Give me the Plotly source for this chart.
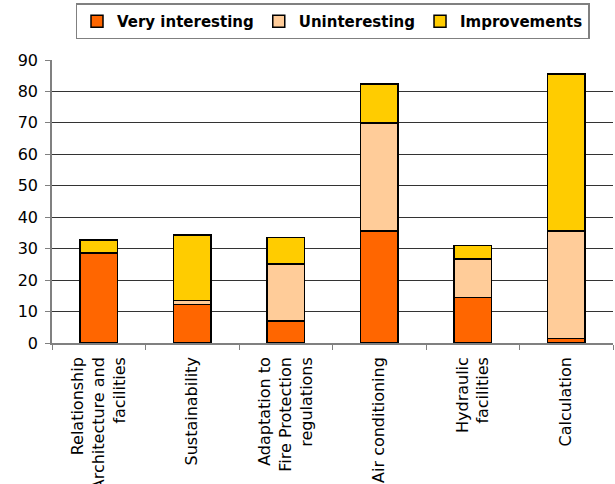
import plotly.graph_objects as go

categories = [
    "Relationship<br>Architecture and<br>facilities",
    "Sustainability",
    "Adaptation to<br>Fire Protection<br>regulations",
    "Air conditioning",
    "Hydraulic<br>facilities",
    "Calculation",
]
very_interesting = [28.6, 12.2, 7.0, 35.6, 14.4, 1.4]
uninteresting = [0.0, 1.3, 18.2, 34.3, 12.3, 34.2]
improvements = [4.2, 20.8, 8.3, 12.4, 4.3, 50.0]

series = [
    ("Very interesting", very_interesting, "#FF6600"),
    ("Uninteresting", uninteresting, "#FFCC99"),
    ("Improvements", improvements, "#FFCC00"),
]

fig = go.Figure()
for name, vals, color in series:
    fig.add_trace(go.Bar(
        name=name, x=categories, y=vals,
        marker=dict(color=color, line=dict(color="#000000", width=1.5)),
    ))

fig.update_layout(
    width=615, height=484,
    barmode="stack", bargap=0.6,
    paper_bgcolor="white", plot_bgcolor="white",
    margin=dict(l=52, r=2, t=60, b=141, autoexpand=False),
    font=dict(family="DejaVu Sans", size=16, color="black"),
    legend=dict(
        orientation="h", x=0.5, xanchor="center", y=0.993, yref="container",
        yanchor="top", traceorder="normal",
        font=dict(family="DejaVu Sans", size=15, color="black", weight="bold"),
        bordercolor="#808080", borderwidth=1.5, bgcolor="white",
        itemwidth=30, tracegroupgap=0,
    ),
    showlegend=True,
)

fig.update_xaxes(
    tickangle=-90, tickson="boundaries", ticks="outside", ticklen=5,
    tickcolor="#808080", showline=True, linecolor="#808080", linewidth=1.5,
    showgrid=False, automargin=False, tickfont=dict(size=16),
    ticklabelstandoff=6,
)
fig.update_yaxes(
    range=[0, 90], dtick=10, ticks="outside", ticklen=5, tickcolor="#808080",
    showline=True, linecolor="#808080", linewidth=1.5,
    showgrid=True, gridcolor="#333333", gridwidth=1,
    automargin=False, tickfont=dict(size=16), zeroline=False,
    ticklabelstandoff=4,
)

fig.write_html("out.html")
